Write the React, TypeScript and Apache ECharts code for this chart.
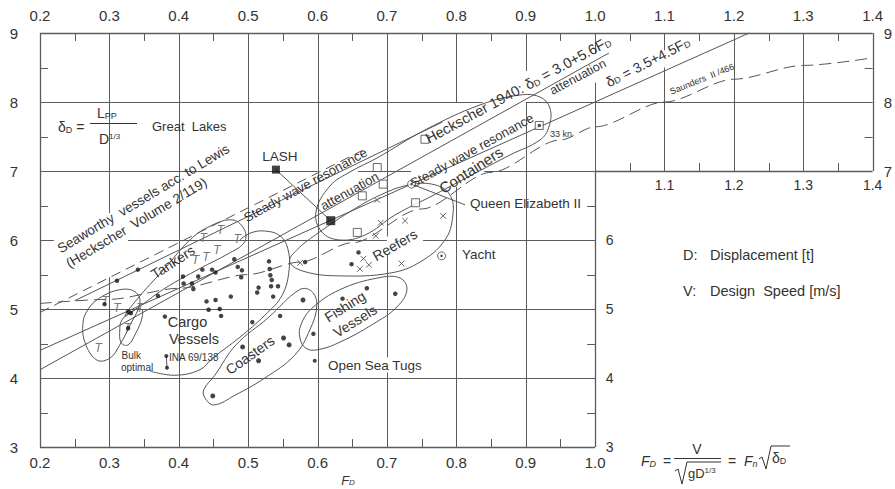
import React, { useEffect, useRef } from "react";
import * as echarts from "echarts";

type P = [number, number];

const FONT = '"Liberation Sans", Arial, Helvetica, sans-serif';
const INK = "#333333";
const GRID = "#5c5c5c";
const LINE = "#555555";

// ---------------- axes / ticks ----------------
const xTopLabels = [0.2, 0.3, 0.4, 0.5, 0.6, 0.7, 0.8, 0.9, 1.0, 1.1, 1.2, 1.3, 1.4];
const xBottomLabels = [0.2, 0.3, 0.4, 0.5, 0.6, 0.7, 0.8, 0.9, 1.0];
const xInnerLabels = [1.1, 1.2, 1.3, 1.4];
const yLeftLabels = [3, 4, 5, 6, 7, 8, 9];
const yRightOuterLabels = [7, 8, 9];
const yRightInnerLabels = [3, 4, 5, 6];
const minorTop = [0.25, 0.35, 0.45, 0.55, 0.65, 0.75, 0.85, 0.95, 1.05, 1.15, 1.25, 1.35];
const minorBottom = [0.25, 0.35, 0.45, 0.55, 0.65, 0.75, 0.85, 0.95];
const minorInnerX = [1.05, 1.15, 1.25, 1.35];
const minorLeft = [3.5, 4.5, 5.5, 6.5, 7.5, 8.5];
const minorRightOuter = [7.5, 8.5];
const minorRightInner = [3.5, 4.5, 5.5, 6.5];

// frame and grid (data units)
const frameSegments: [P, P][] = [
  [[0.2, 9], [1.4, 9]],
  [[0.2, 3], [0.2, 9]],
  [[0.2, 3], [1.0, 3]],
  [[1.0, 3], [1.0, 7]],
  [[1.0, 7], [1.4, 7]],
  [[1.4, 7], [1.4, 9]],
];
// [F, deltaFrom, deltaTo]
const vGrid: [number, number, number][] = [
  [0.3, 3, 5.46], [0.3, 6.39, 9],
  [0.4, 3, 9], [0.5, 3, 9], [0.6, 3, 9],
  [0.7, 3, 4.08], [0.7, 4.3, 5.78], [0.7, 6.05, 9],
  [0.8, 3, 6.77], [0.8, 7.99, 9],
  [0.9, 3, 8.0], [0.9, 8.45, 9],
  [1.0, 7, 8.28], [1.0, 8.7, 9],
  [1.1, 7, 8.5], [1.1, 8.75, 9],
  [1.2, 7, 9], [1.3, 7, 9],
];
// [delta, FFrom, FTo]
const hGrid: [number, number, number][] = [
  [8, 0.2, 0.838], [8, 0.9, 1.4],
  [7, 0.2, 0.6], [7, 0.658, 0.735], [7, 0.84, 1.0],
  [6, 0.2, 0.22], [6, 0.327, 0.7], [6, 0.752, 1.0],
  [5, 0.2, 1.0],
  [4, 0.2, 1.0],
];

// ---------------- reference lines ----------------
const heckscher1940: P[] = [[0.2, 4.12], [1.02, 8.71]];
const heckscherAlt: P[] = [[0.2, 4.4], [1.222, 9.0]];
const steadyWave: P[] = [[0.25, 5.12], [0.78, 7.71]];
const lewis: P[] = [[0.2, 4.95], [0.665, 7.3]];
const saunders: P[] = [
  [0.2, 5.08], [0.3, 5.14], [0.4, 5.3], [0.5, 5.5], [0.575, 5.68], [0.65, 5.96],
  [0.75, 6.45], [0.85, 6.98], [0.95, 7.45], [1.0, 7.64], [1.1, 8.0], [1.2, 8.33],
  [1.3, 8.53], [1.4, 8.64],
];
const lashLeader: P[] = [[0.54, 7.02], [0.619, 6.28]];
const qe2Leader: P[] = [[0.7355, 6.81], [0.8125, 6.51]];
const inaBar: P[] = [[0.382, 4.32], [0.383, 4.15]];

// ---------------- ship data ----------------
const cargoDots: P[] = [
  [0.311, 5.41], [0.341, 5.57], [0.37, 5.19], [0.293, 5.07], [0.327, 4.96], [0.331, 4.94],
  [0.327, 4.72], [0.38, 4.89], [0.406, 5.47], [0.407, 5.37], [0.419, 5.37], [0.421, 5.29],
  [0.428, 5.47], [0.434, 5.57], [0.448, 5.57], [0.453, 5.53], [0.48, 5.72], [0.485, 5.61],
  [0.491, 5.56], [0.49, 5.46], [0.44, 5.11], [0.453, 5.13], [0.443, 4.99], [0.459, 5.0],
  [0.461, 4.9], [0.475, 5.18], [0.53, 5.69], [0.531, 5.58], [0.532, 5.49], [0.534, 5.42],
  [0.533, 5.33], [0.543, 5.33], [0.515, 5.31], [0.513, 5.24], [0.536, 5.18], [0.506, 4.81],
  [0.546, 4.9],
];
const coasterDots: P[] = [
  [0.579, 5.13], [0.492, 4.45], [0.551, 4.58], [0.559, 4.48], [0.515, 4.25], [0.449, 3.74],
];
const fishingDots: P[] = [[0.594, 4.64], [0.636, 5.15], [0.671, 5.3], [0.712, 5.22]];
const tugDots: P[] = [[0.596, 4.25]];
const reeferDots: P[] = [[0.659, 5.82], [0.649, 5.65], [0.582, 5.68]];
const inaDots: P[] = [[0.382, 4.32], [0.383, 4.15]];
const tankers: P[] = [
  [0.46, 6.15], [0.435, 6.03], [0.484, 6.01], [0.424, 5.71], [0.439, 5.76], [0.455, 5.85],
  [0.294, 5.12], [0.311, 5.02], [0.344, 5.02], [0.326, 4.73], [0.284, 4.43],
];
const reefers: P[] = [
  [0.686, 6.58], [0.691, 6.25], [0.684, 6.06], [0.726, 6.28], [0.781, 6.35],
  [0.666, 5.73], [0.674, 5.64], [0.661, 5.58], [0.721, 5.66], [0.575, 5.67],
];
const containers: P[] = [
  [0.7548, 7.46], [0.686, 7.05], [0.6947, 6.81], [0.6645, 6.64], [0.7413, 6.54], [0.6573, 6.11],
];
const containerFast: P[] = [[0.9195, 7.66]];
const passengerShips: P[] = [[0.7355, 6.81], [0.7787, 5.77]];
const lashShip: P[] = [[0.54, 7.02]];
const referenceShip: P[] = [[0.619, 6.28]];

// ---------------- group outlines ----------------
const tankersOutline: P[] = [
  [0.3225, 4.9], [0.344, 5.19], [0.38, 5.59], [0.416, 6.0], [0.445, 6.2], [0.478, 6.29],
  [0.495, 6.14], [0.494, 5.96], [0.471, 5.8], [0.431, 5.59], [0.38, 5.3], [0.344, 5.04],
];
const leftOvalOutline: P[] = [
  [0.262, 4.8], [0.265, 4.51], [0.282, 4.26], [0.301, 4.29], [0.315, 4.48], [0.33, 4.77],
  [0.344, 5.09], [0.337, 5.25], [0.315, 5.28], [0.286, 5.16], [0.269, 4.99],
];
const bulkOutline: P[] = [
  [0.315, 4.7], [0.318, 4.84], [0.333, 4.97], [0.346, 5.0], [0.347, 4.87], [0.338, 4.65],
  [0.327, 4.48], [0.317, 4.51],
];
const coastersOutline: P[] = [
  [0.4378, 3.71], [0.4507, 3.61], [0.481, 3.75], [0.524, 4.0], [0.567, 4.33], [0.589, 4.7],
  [0.599, 5.06], [0.591, 5.26], [0.574, 5.28], [0.5285, 4.87], [0.4824, 4.48], [0.452, 4.04],
  [0.436, 3.83],
];
const fishingOutline: P[] = [
  [0.5746, 4.58], [0.5833, 4.43], [0.6006, 4.41], [0.6323, 4.52], [0.6798, 4.78], [0.7144, 5.03],
  [0.7288, 5.28], [0.7187, 5.45], [0.687, 5.45], [0.6323, 5.28], [0.5919, 5.01], [0.576, 4.77],
];
const reefersOutline: P[] = [
  [0.56, 5.68], [0.57, 5.855], [0.6035, 6.12], [0.6467, 6.41], [0.69, 6.65], [0.733, 6.8],
  [0.769, 6.8], [0.791, 6.65], [0.795, 6.36], [0.7836, 6.0], [0.7476, 5.68], [0.7043, 5.52],
  [0.632, 5.48], [0.582, 5.54],
];
const containersOutline: P[] = [
  [0.6323, 6.0], [0.6063, 6.116], [0.5977, 6.406], [0.6179, 6.783], [0.6467, 6.986],
  [0.6856, 7.188], [0.7548, 7.594], [0.834, 7.957], [0.8916, 8.101], [0.9205, 8.072],
  [0.9349, 7.913], [0.9334, 7.638], [0.9205, 7.449], [0.8772, 7.232], [0.8196, 6.928],
  [0.762, 6.623], [0.7115, 6.362], [0.6683, 6.072],
];
const cargoOutline: P[] = [
  [0.3585, 4.1], [0.3945, 4.04], [0.4305, 4.12], [0.449, 4.29], [0.488, 4.59], [0.524, 4.91],
  [0.549, 5.2], [0.559, 5.57], [0.557, 5.88], [0.546, 6.06], [0.524, 6.13], [0.503, 6.1],
  [0.488, 6.0],
];
const closedOutlines = [
  tankersOutline, leftOvalOutline, bulkOutline, coastersOutline, fishingOutline,
  reefersOutline, containersOutline,
];
const openOutlines = [cargoOutline];

// ---------------- in-plot annotations ----------------
type Note = { t: string; at: P; rot?: number; size: number; align?: string; color?: string };
const notes: Note[] = [
  { t: "Seaworthy  vessels acc. to Lewis", at: [0.349, 6.6], rot: 31, size: 13.5 },
  { t: "(Heckscher  Volume 2/119)", at: [0.339, 6.25], rot: 31, size: 13.5 },
  { t: "Tankers", at: [0.3916, 5.681], rot: 33, size: 14 },
  { t: "Cargo", at: [0.4125, 4.805], size: 14.5 },
  { t: "Vessels", at: [0.4219, 4.565], size: 14.5 },
  { t: "INA 69/138", at: [0.386, 4.3], size: 10, align: "left" },
  { t: "Bulk", at: [0.3174, 4.326], size: 10, align: "left" },
  { t: "optimal", at: [0.3167, 4.159], size: 10, align: "left" },
  { t: "Coasters", at: [0.5026, 4.333], rot: 35, size: 14 },
  { t: "Fishing", at: [0.6395, 5.035], rot: 32, size: 14 },
  { t: "Vessels", at: [0.654, 4.826], rot: 32, size: 14 },
  { t: "Open Sea Tugs", at: [0.615, 4.188], size: 13.5, align: "left" },
  { t: "Reefers", at: [0.7115, 5.928], rot: 30, size: 14 },
  { t: "Yacht", at: [0.808, 5.797], size: 13.5, align: "left" },
  { t: "Queen Elizabeth II", at: [0.8196, 6.536], size: 13.5, align: "left" },
  { t: "Containers", at: [0.821, 7.015], rot: 33, size: 15 },
  { t: "Steady wave resonance", at: [0.8225, 7.297], rot: 29, size: 13 },
  { t: "Steady wave resonance", at: [0.5826, 6.797], rot: 29, size: 13 },
  { t: "attenuation", at: [0.646, 6.71], rot: 29, size: 13 },
  { t: "Heckscher 1940: δ{s|D} = 3.0+5.6F{s|D}", at: [0.889, 8.178], rot: 28.5, size: 14.5 },
  { t: "attenuation", at: [0.9752, 8.362], rot: 28, size: 12.5 },
  { t: "δ{s|D} = 3.5+4.5F{s|D}", at: [1.076, 8.58], rot: 27, size: 14 },
  { t: "Saunders  II /466", at: [1.154, 8.333], rot: 22, size: 9 },
  { t: "33 kn", at: [0.935, 7.536], size: 9, align: "left" },
  { t: "LASH", at: [0.5458, 7.203], size: 13.5 },
  { t: "Great  Lakes", at: [0.3614, 7.638], size: 13, align: "left" },
];

const near = (arr: number[], v: number) => arr.some((a) => Math.abs(a - v) < 1e-6);
const crisp = (v: number) => Math.round(v) + 0.5;

function txt(x: number, y: number, text: string, size: number, extra: any = {}) {
  const align = extra.align || "left";
  const va = extra.verticalAlign || "middle";
  return {
    type: "text",
    x,
    y,
    rotation: extra.rotation || 0,
    z: 10,
    style: {
      text,
      fill: extra.color || INK,
      fontSize: size,
      fontFamily: FONT,
      fontStyle: extra.italic ? "italic" : "normal",
      align,
      textAlign: align,
      verticalAlign: va,
      textVerticalAlign: va,
      rich: {
        s: { fontSize: Math.max(7, Math.round(size * 0.62)), fill: extra.color || INK, fontFamily: FONT, fontStyle: extra.italic ? "italic" : "normal", verticalAlign: "bottom" },
        u: { fontSize: Math.max(7, Math.round(size * 0.58)), fill: extra.color || INK, fontFamily: FONT, verticalAlign: "top" },
        i: { fontSize: size, fill: extra.color || INK, fontFamily: FONT, fontStyle: "italic" },
      },
    },
  };
}

function buildOption(): any {
  const axisBase = {
    type: "value",
    axisLine: { show: false },
    axisTick: { show: false },
    splitLine: { show: false },
  };
  const lbl = (arr: number[], fixed: boolean, size: number, margin: number) => ({
    formatter: (v: number) => (near(arr, v) ? (fixed ? v.toFixed(1) : String(Math.round(v))) : ""),
    fontSize: size,
    color: INK,
    fontFamily: FONT,
    margin,
    showMinLabel: true,
    showMaxLabel: true,
  });

  const renderFrame = (_p: any, api: any) => {
    const children: any[] = [];
    const seg = (a: P, b: P, w: number) => {
      const p = api.coord(a);
      const q = api.coord(b);
      const vert = Math.abs(p[0] - q[0]) < 0.5;
      children.push({
        type: "line",
        shape: {
          x1: vert ? crisp(p[0]) : p[0],
          y1: vert ? p[1] : crisp(p[1]),
          x2: vert ? crisp(q[0]) : q[0],
          y2: vert ? q[1] : crisp(q[1]),
        },
        style: { stroke: GRID, lineWidth: w },
      });
    };
    frameSegments.forEach(([a, b]) => seg(a, b, 1.3));
    vGrid.forEach(([f, d0, d1]) => seg([f, d0], [f, d1], 1));
    hGrid.forEach(([d, f0, f1]) => seg([f0, d], [f1, d], 1));
    const T = 8;
    const tick = (pt: P, dx: number, dy: number) => {
      const c = api.coord(pt);
      const x = dx === 0 ? crisp(c[0]) : c[0];
      const y = dy === 0 ? crisp(c[1]) : c[1];
      children.push({ type: "line", shape: { x1: x, y1: y, x2: x + dx, y2: y + dy }, style: { stroke: GRID, lineWidth: 1 } });
    };
    minorTop.forEach((f) => tick([f, 9], 0, T));
    minorBottom.forEach((f) => tick([f, 3], 0, -T));
    minorInnerX.forEach((f) => tick([f, 7], 0, -T));
    minorLeft.forEach((d) => tick([0.2, d], T, 0));
    minorRightOuter.forEach((d) => tick([1.4, d], -T, 0));
    minorRightInner.forEach((d) => tick([1.0, d], -T, 0));
    return { type: "group", children };
  };

  const custom = (name: string, data: any[], renderItem: any, z: number) => ({
    type: "custom",
    name,
    coordinateSystem: "cartesian2d",
    xAxisIndex: 0,
    yAxisIndex: 0,
    data,
    renderItem,
    clip: false,
    silent: true,
    z,
  });

  const lineSeries = (name: string, data: P[], style: any, z = 3, smooth: any = false) => ({
    type: "line",
    name,
    data,
    symbol: "none",
    showSymbol: false,
    smooth,
    smoothMonotone: "x",
    silent: true,
    clip: false,
    z,
    lineStyle: { color: LINE, width: 1, ...style },
  });

  const scatter = (name: string, data: P[], size: number, itemStyle: any, symbol = "circle", z = 6) => ({
    type: "scatter",
    name,
    data,
    symbol,
    symbolSize: size,
    itemStyle,
    silent: true,
    z,
  });

  const graphics: any[] = [
    // delta_D = L_PP / D^(1/3)
    txt(58, 127, "δ{s|D} =", 14),
    txt(97, 113, "L{s|PP}", 14),
    { type: "line", shape: { x1: 90, y1: 123.5, x2: 137, y2: 123.5 }, style: { stroke: INK, lineWidth: 1 } },
    txt(99, 139, "D{u|1/3}", 14),
    // legend notes
    txt(683, 255, "D:", 14.5),
    txt(710, 255, "Displacement [t]", 14.5),
    txt(683, 290.5, "V:", 14.5),
    txt(710, 290.5, "Design  Speed [m/s]", 14.5),
    // axis name
    txt(348, 480, "F{s|D}", 13, { italic: true, align: "center" }),
    // F_D = V / sqrt(g D^1/3) = F_n sqrt(delta_D)
    txt(641, 461, "F{s|D}", 14, { italic: true }),
    txt(663, 460.5, "=", 14),
    txt(697, 449, "V", 14, { align: "center" }),
    { type: "line", shape: { x1: 674, y1: 458.5, x2: 721, y2: 458.5 }, style: { stroke: INK, lineWidth: 1 } },
    { type: "polyline", shape: { points: [[675, 471], [678, 469], [682, 484], [687, 462], [721, 462]] }, style: { stroke: INK, lineWidth: 1, fill: "none" } },
    txt(688, 473, "gD{u|1/3}", 13),
    txt(728, 460.5, "=", 14),
    txt(744, 461, "F{s|n}", 14, { italic: true }),
    { type: "polyline", shape: { points: [[759, 459], [762, 457], [766, 469], [771, 446], [790, 446]] }, style: { stroke: INK, lineWidth: 1, fill: "none" } },
    txt(772, 458, "δ{s|D}", 14),
  ];

  return {
    animation: false,
    backgroundColor: "#ffffff",
    grid: { left: 40, right: 22, top: 33, bottom: 42, containLabel: false },
    xAxis: [
      { ...axisBase, position: "top", min: 0.2, max: 1.4, interval: 0.1, axisLabel: lbl(xTopLabels, true, 15, 10) },
      { ...axisBase, position: "bottom", min: 0.2, max: 1.4, interval: 0.1, axisLabel: lbl(xBottomLabels, true, 15, 8) },
      { ...axisBase, position: "bottom", offset: -276, min: 0.2, max: 1.4, interval: 0.1, axisLabel: lbl(xInnerLabels, true, 14, 7) },
    ],
    yAxis: [
      { ...axisBase, position: "left", min: 3, max: 9, interval: 1, axisLabel: lbl(yLeftLabels, false, 15, 22) },
      { ...axisBase, position: "right", min: 3, max: 9, interval: 1, axisLabel: lbl(yRightOuterLabels, false, 15, 11) },
      { ...axisBase, position: "right", offset: -278, min: 3, max: 9, interval: 1, axisLabel: lbl(yRightInnerLabels, false, 14, 11) },
    ],
    series: [
      custom("frame", [[0.2, 3]], renderFrame, 1),
      custom(
        "closed outlines",
        closedOutlines.map((o) => o[0]),
        (params: any, api: any) => ({
          type: "polygon",
          shape: { points: closedOutlines[params.dataIndex].map((p) => api.coord(p)), smooth: 0.4 },
          style: { fill: "none", stroke: LINE, lineWidth: 1 },
        }),
        2
      ),
      custom(
        "open outlines",
        openOutlines.map((o) => o[0]),
        (params: any, api: any) => ({
          type: "polyline",
          shape: { points: openOutlines[params.dataIndex].map((p) => api.coord(p)), smooth: 0.4 },
          style: { fill: "none", stroke: LINE, lineWidth: 1 },
        }),
        2
      ),
      lineSeries("Heckscher 1940: 3.0+5.6F", heckscher1940, {}),
      lineSeries("3.5+4.5F", heckscherAlt, {}),
      lineSeries("Steady wave resonance", steadyWave, {}),
      lineSeries("Lewis", lewis, { type: [10, 6] }),
      lineSeries("Saunders", saunders, { type: [12, 6] }, 3, 0.3),
      lineSeries("LASH leader", lashLeader, {}),
      lineSeries("QE2 leader", qe2Leader, {}),
      lineSeries("INA", inaBar, {}),
      scatter("Cargo vessels", cargoDots, 4.5, { color: "#151515" }),
      scatter("Coasters", coasterDots, 5, { color: "#151515" }),
      scatter("Fishing vessels", fishingDots, 4.5, { color: "#151515" }),
      scatter("Open sea tugs", tugDots, 4, { color: "#151515" }),
      scatter("Reefer dots", reeferDots, 4.5, { color: "#151515" }),
      scatter("INA 69/138", inaDots, 4, { color: "#151515" }),
      scatter("Containers", containers, 8, { color: "#ffffff", borderColor: "#444", borderWidth: 1 }, "rect"),
      scatter("Containers 33 kn", containerFast, 8, { color: "#ffffff", borderColor: "#444", borderWidth: 1 }, "rect"),
      scatter("Containers 33 kn core", containerFast, 3, { color: "#222" }, "rect", 7),
      scatter("Passenger", passengerShips, 8, { color: "#ffffff", borderColor: "#444", borderWidth: 1 }),
      scatter("Passenger core", passengerShips, 2.5, { color: "#222" }, "circle", 7),
      scatter("LASH", lashShip, 8, { color: "#111" }, "rect"),
      scatter("Reference", referenceShip, 9, { color: "#111" }, "rect"),
      custom(
        "Tankers",
        tankers,
        (params: any, api: any) => {
          const c = api.coord(tankers[params.dataIndex]);
          return txt(c[0], c[1], "T", 12, { italic: true, align: "center", color: "#777" });
        },
        6
      ),
      custom(
        "Reefers",
        reefers,
        (params: any, api: any) => {
          const c = api.coord(reefers[params.dataIndex]);
          const r = 2.8;
          return {
            type: "group",
            children: [
              { type: "line", shape: { x1: c[0] - r, y1: c[1] - r, x2: c[0] + r, y2: c[1] + r }, style: { stroke: "#666", lineWidth: 1 } },
              { type: "line", shape: { x1: c[0] - r, y1: c[1] + r, x2: c[0] + r, y2: c[1] - r }, style: { stroke: "#666", lineWidth: 1 } },
            ],
          };
        },
        6
      ),
      custom(
        "notes",
        notes.map((n) => n.at),
        (params: any, api: any) => {
          const n = notes[params.dataIndex];
          const c = api.coord(n.at);
          return txt(c[0], c[1], n.t, n.size, {
            align: n.align || "center",
            rotation: ((n.rot || 0) * Math.PI) / 180,
            color: n.color,
          });
        },
        8
      ),
    ],
    graphic: { elements: graphics },
  };
}

export default function App() {
  const ref = useRef<HTMLDivElement>(null);
  useEffect(() => {
    document.body.style.margin = "0";
    const chart = echarts.init(ref.current as HTMLDivElement, null, { renderer: "svg" });
    chart.setOption(buildOption());
    return () => chart.dispose();
  }, []);
  return <div ref={ref} style={{ width: 895, height: 489, background: "#fff" }} />;
}
